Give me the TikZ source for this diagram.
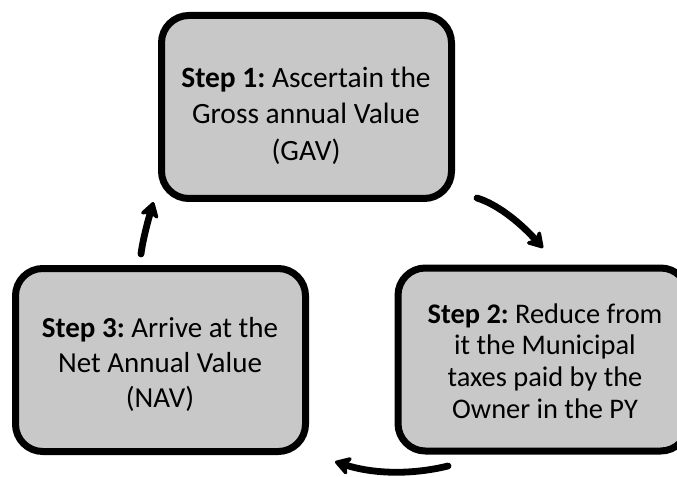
\documentclass[tikz,border=0pt]{standalone}
\usepackage{fontspec}
\setmainfont{Carlito}
\usetikzlibrary{arrows.meta}
\definecolor{boxgray}{RGB}{200,200,200}
\begin{document}
\begin{tikzpicture}[x=0.75pt,y=-0.75pt,
  stepbox/.style={draw=black, line width=5.25pt, fill=boxgray, rounded corners=20.5pt,
    minimum width=217.5pt, minimum height=137.25pt, inner sep=0pt},
  steptext/.style={align=center, inner sep=0pt, text=black},
  flow/.style={line width=5.1pt, line cap=round,
    -{Stealth[length=14pt,width=17pt,inset=4pt,round]}}]
\useasboundingbox (0,0) rectangle (677,477);
\clip (0,0) rectangle (677,477);
\node[stepbox] (s1) at (306.5,107) {};
\node[stepbox] (s2) at (543,359.5) {};
\node[stepbox] (s3) at (160.5,360) {};
\node[steptext, font=\fontsize{22.1pt}{27.4pt}\selectfont\frenchspacing] (t1) at (306,115.8)
  {\textbf{Step 1:} Ascertain the\\Gross annual Value\\(GAV)};
\node[steptext, font=\fontsize{21.3pt}{23.8pt}\selectfont\frenchspacing] (t2) at (545,360.9)
  {\textbf{Step 2:} Reduce from\\it the Municipal\\taxes paid by the\\Owner in the PY};
\node[steptext, font=\fontsize{21.75pt}{26.25pt}\selectfont\frenchspacing] (t3) at (160,364.3)
  {\textbf{Step 3:} Arrive at the\\Net Annual Value\\(NAV)};
\coordinate (a1s) at (477,198);
\coordinate (a1e) at (543,248);
\coordinate (a2s) at (448,466);
\coordinate (a2e) at (335,461.7);
\coordinate (a3s) at (141,254);
\coordinate (a3e) at (153.5,202);
\draw[flow] (a1s) .. controls (496.3,204) and (518.3,220.7) .. (a1e);
\draw[flow] (a2s) .. controls (411,475) and (373.7,474) .. (a2e);
\draw[flow] (a3s) .. controls (142.2,243.7) and (146.4,226) .. (a3e);
\end{tikzpicture}
\end{document}
